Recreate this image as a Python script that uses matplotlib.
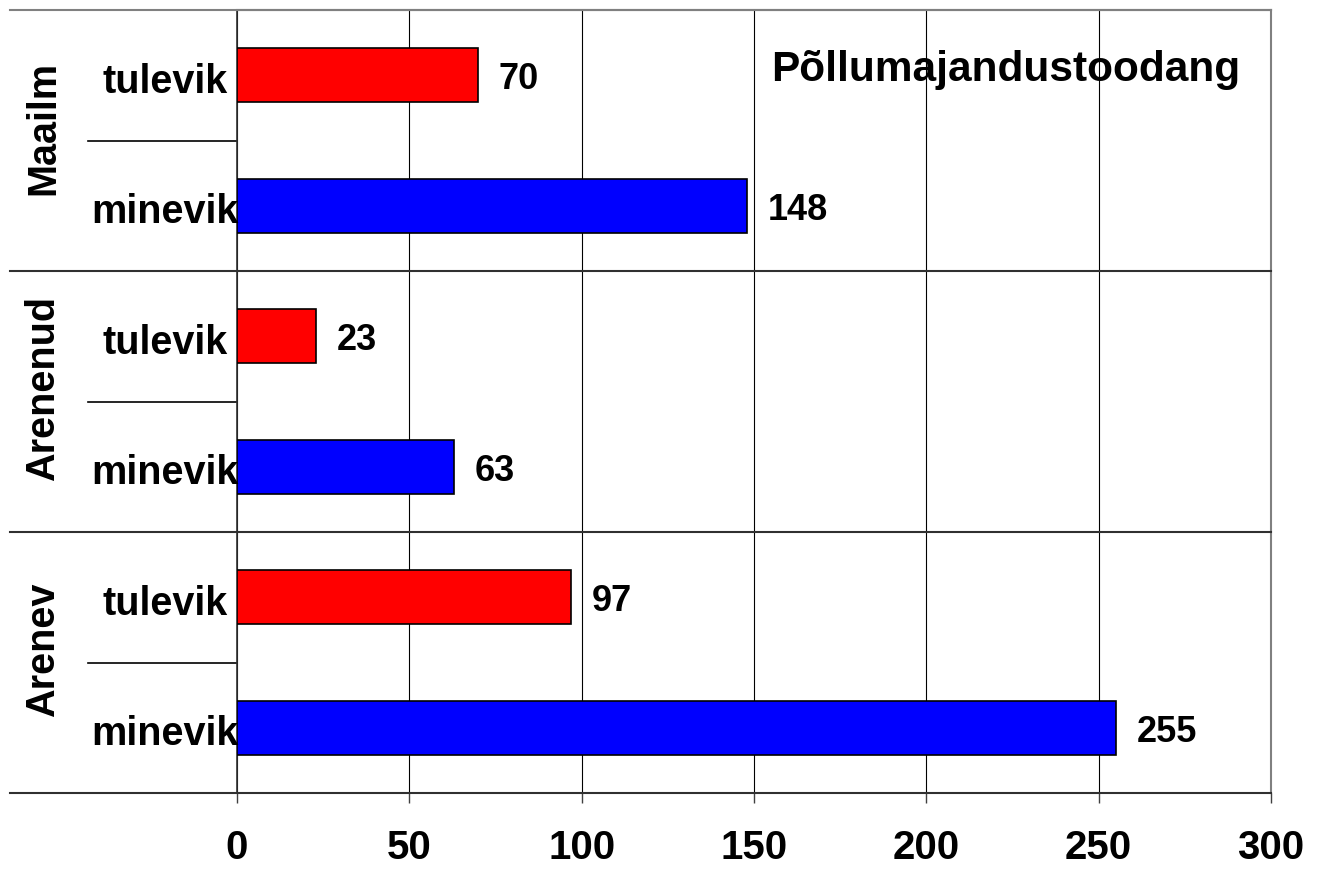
import matplotlib.pyplot as plt
import matplotlib.transforms as mtransforms

groups = ['Arenev', 'Arenenud', 'Maailm']
periods = ['minevik', 'tulevik']
values = {'Arenev': [255, 97], 'Arenenud': [63, 23], 'Maailm': [148, 70]}
colors = ['#0000ff', '#ff0000']
title = 'Põllumajandustoodang'
xticks = [0, 50, 100, 150, 200, 250, 300]

plt.rcParams['font.family'] = ['Liberation Sans', 'DejaVu Sans']
plt.rcParams['font.weight'] = 'bold'

fig = plt.figure(figsize=(13.19, 8.72), dpi=100)
ax = fig.add_axes([237/1319, 1-793/872, (1271-237)/1319, (793-10)/872])

labels = []
pos = 0
for g in groups:
    for j, p in enumerate(periods):
        v = values[g][j]
        ax.barh(pos, v, height=0.41, color=colors[j], edgecolor='black', linewidth=1.2, zorder=3)
        ax.text(v + 6, pos - 0.035, str(v), va='center', ha='left', fontsize=26, fontweight='bold', zorder=4)
        labels.append(p)
        pos += 1

ax.set_ylim(-0.5, pos - 0.5)
ax.set_xlim(0, 300)
ax.set_xticks(xticks)
ax.set_xticklabels([str(t) for t in xticks], fontsize=29, fontweight='bold')
ax.tick_params(axis='x', length=7, width=1, pad=19, color='#404040')
ax.set_yticks([])
ax.grid(axis='x', color='black', linewidth=0.8, zorder=0)

for side in ['top', 'right']:
    ax.spines[side].set_color('#808080')
    ax.spines[side].set_linewidth(1.5)
ax.spines['left'].set_color('#303030')
ax.spines['left'].set_linewidth(1.2)
ax.spines['bottom'].set_visible(False)

# category labels and separators left of the axis
trans = mtransforms.blended_transform_factory(fig.transFigure, ax.transData)
for i, lab in enumerate(labels):
    ax.text(165/1319, i - 0.05, lab, transform=trans, ha='center', va='center',
            fontsize=28.5, fontweight='bold', clip_on=False)
for k, g in enumerate(groups):
    ax.text(43/1319, 2*k + 0.6, g, transform=trans, ha='center', va='center',
            rotation=90, fontsize=28.5, fontweight='bold', clip_on=False)
    ax.plot([88/1319, 237/1319], [2*k + 0.5, 2*k + 0.5], transform=trans,
            color='black', linewidth=1.2, clip_on=False)
for b in range(len(groups) + 1):
    y = 2*b - 0.5
    col = '#808080' if b == len(groups) else '#303030'
    ax.plot([10/1319, 1271/1319], [y, y], transform=trans, color=col,
            linewidth=1.5, clip_on=False, zorder=5)

fig.text(1240/1319, 1 - 70/872, title, ha='right', va='center',
         fontsize=30.5, fontweight='bold', zorder=4)

fig.savefig('out.png', dpi=100)
